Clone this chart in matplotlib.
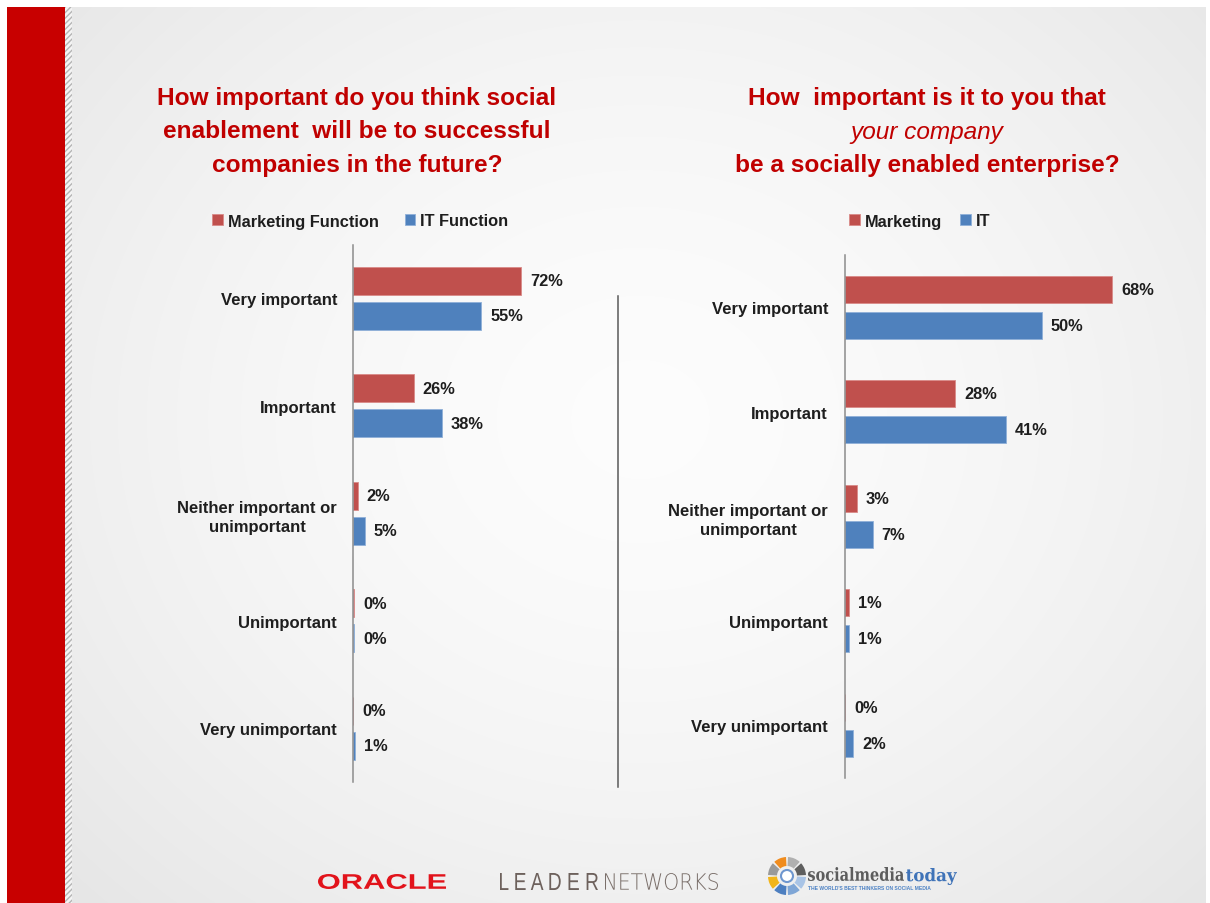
import numpy as np
import matplotlib
matplotlib.use("Agg")
import matplotlib.pyplot as plt
from matplotlib.patches import Rectangle, Wedge, Circle, PathPatch
from matplotlib.textpath import TextPath
from matplotlib.font_manager import FontProperties
import matplotlib.transforms as mtransforms

# ---------------- data ----------------
categories = ["Very important", "Important", "Neither important or\nunimportant",
              "Unimportant", "Very unimportant"]

left_series = ["Marketing Function", "IT Function"]
left_marketing = [72, 26, 2, 0.4, 0]
left_it = [55, 38, 5, 0.4, 1]

right_series = ["Marketing", "IT"]
right_marketing = [68, 28, 3, 1, 0]
right_it = [50, 41, 7, 1, 2]

left_title = ["How important do you think social",
              "enablement  will be to successful",
              "companies in the future?"]
right_title = ["How  important is it to you that",
               "your company",
               "be a socially enabled enterprise?"]

# ---------------- style ----------------
W, H = 1210, 904
RED = "#C0504D"
BLUE = "#4F81BD"
TITLE_RED = "#C00000"
TXT = "#1E1E1E"
FAM = ["Liberation Sans", "DejaVu Sans"]
plt.rcParams["font.family"] = FAM

fig = plt.figure(figsize=(W / 100, H / 100), dpi=100)

# background / decoration axes in pixel coordinates
bg = fig.add_axes([0, 0, 1, 1], zorder=0)
bg.set_xlim(0, W)
bg.set_ylim(H, 0)
bg.axis("off")

yy, xx = np.mgrid[0:H, 0:W]
d = np.sqrt(((xx - 640) / 720.0) ** 2 + ((yy - 420) / 620.0) ** 2)
val = 0.99 - 0.075 * np.clip(d, 0, 1.3) ** 1.6
img = np.dstack([val, val, val])
bg.imshow(img, extent=(0, W, H, 0), aspect="auto", interpolation="bilinear", zorder=0)

# white margins, red band, hatched strip
bg.add_patch(Rectangle((0, 0), W, 8, color="white", zorder=1, lw=0))
bg.add_patch(Rectangle((0, 0), 7, H, color="white", zorder=1, lw=0))
bg.add_patch(Rectangle((W - 4, 0), 4, H, color="white", zorder=1, lw=0))
bg.add_patch(Rectangle((7, 8), 58, H - 8, color="#C80000", zorder=2, lw=0))
bg.add_patch(Rectangle((65, 8), 7, H - 8, facecolor="#f4f4f4", edgecolor="#b5b5b5",
                       hatch="//////", lw=0, zorder=2))

# divider line
bg.plot([618, 618], [297, 788], color="#5a5a5a", lw=1.1, zorder=3)

# titles
for i, line in enumerate(left_title):
    bg.text(357, 98.5 + i * 33.5, line, color=TITLE_RED, fontsize=17.6, fontweight="bold",
            ha="center", va="center", zorder=4)
for i, line in enumerate(right_title):
    style = "italic" if i == 1 else "normal"
    weight = "normal" if i == 1 else "bold"
    bg.text(927, 98.5 + i * 33.5, line, color=TITLE_RED, fontsize=17.6, fontweight=weight,
            fontstyle=style, ha="center", va="center", zorder=4)


def panel(left, top, right, bottom, mk, it, series, xmax, off, h, pad, leg_x, colsp):
    ax = fig.add_axes([left / W, 1 - bottom / H, (right - left) / W, (bottom - top) / H], zorder=5)
    ax.patch.set_alpha(0)
    y = np.arange(len(categories))
    b1 = ax.barh(y - off, mk, height=h, color=RED, edgecolor="#d98a88", linewidth=0.6)
    b2 = ax.barh(y + off, it, height=h, color=BLUE, edgecolor="#8fb0d8", linewidth=0.6)
    ax.set_xlim(0, xmax)
    ax.set_ylim(len(categories) - 0.5, -0.5)
    for s in ["top", "right", "bottom"]:
        ax.spines[s].set_visible(False)
    ax.spines["left"].set_color("#8c8c8c")
    ax.spines["left"].set_linewidth(1.1)
    ax.set_xticks([])
    ax.set_yticks(y)
    ax.set_yticklabels(categories, fontsize=12, fontweight="bold", color=TXT)
    ax.tick_params(axis="y", length=0, pad=pad)
    for lab in ax.get_yticklabels():
        lab.set_multialignment("center")
        lab.set_linespacing(1.35)
    for bars, vals in ((b1, mk), (b2, it)):
        for rect, v in zip(bars, vals):
            ax.annotate(f"{round(v):d}%", xy=(v, rect.get_y() + rect.get_height() / 2),
                        xytext=(6.5, 0), textcoords="offset points", ha="left", va="center",
                        fontsize=11.8, fontweight="bold", color=TXT)
    ax.legend([b1, b2], series, loc="center left", bbox_to_anchor=(leg_x / W, 1 - 222 / H),
              bbox_transform=fig.transFigure, ncol=2, frameon=False, borderpad=0,
              borderaxespad=0, handlelength=0.65, handleheight=0.65, handletextpad=0.3,
              columnspacing=colsp, prop={"size": 11.8, "weight": "bold", "family": FAM},
              labelcolor=TXT)
    return ax


panel(353, 245.5, 353 + 100 * 2.333, 783, left_marketing, left_it, left_series,
      100, 0.163, 0.26, 11.5, 212, 1.6)
panel(845, 256, 845 + 80 * 3.93, 778.5, right_marketing, right_it, right_series,
      80, 0.172, 0.26, 12.2, 849, 1.1)


# ---------------- logos (footer) ----------------
def stretched_text(s, x0, x1, ybot, height, color, fp):
    tp = TextPath((0, 0), s, size=1, prop=fp)
    bb = tp.get_extents()
    tr = (mtransforms.Affine2D().translate(-bb.x0, -bb.y0)
          .scale((x1 - x0) / bb.width, -height / bb.height).translate(x0, ybot))
    path = tr.transform_path(tp)
    bg.add_patch(PathPatch(path, facecolor=color, edgecolor="none", zorder=6))


stretched_text("ORACLE", 318, 446, 890, 15, "#E2131B",
               FontProperties(family="Liberation Sans", weight="bold"))
stretched_text("L E A D E R", 500, 598, 891, 17, "#6d615c",
               FontProperties(family="Liberation Sans"))
stretched_text("NETWORKS", 605, 718, 891, 17, "#7a6f6a",
               FontProperties(family="DejaVu Sans", weight="light"))

# social media today icon
cx, cy, r = 787, 877, 19
cols = ["#4d7fc0", "#f2b51a", "#9a9a9a", "#f08c1e", "#b0b0b0", "#5f5f5f", "#a9c4e6", "#7fa6d6"]
for k, c in enumerate(cols):
    a0 = 90 + k * 45 + 3
    bg.add_patch(Wedge((cx, cy), r, a0, a0 + 39, width=9, facecolor=c, edgecolor="none", zorder=6))
bg.add_patch(Circle((cx, cy), 6, facecolor="#ffffff", edgecolor="#6f97cf", lw=1.5, zorder=6))
serif_b = FontProperties(family="DejaVu Serif", weight="bold")
stretched_text("socialmedia", 808, 904, 882, 14, "#5c5c5c", serif_b)
stretched_text("today", 906, 957, 886, 17, "#3f73b8", serif_b)
bg.text(808, 889, "THE WORLD'S BEST THINKERS ON SOCIAL MEDIA", fontsize=3.6,
        color="#4d82c4", ha="left", va="center", zorder=6, fontweight="bold")

fig.savefig("out.png", dpi=100)
